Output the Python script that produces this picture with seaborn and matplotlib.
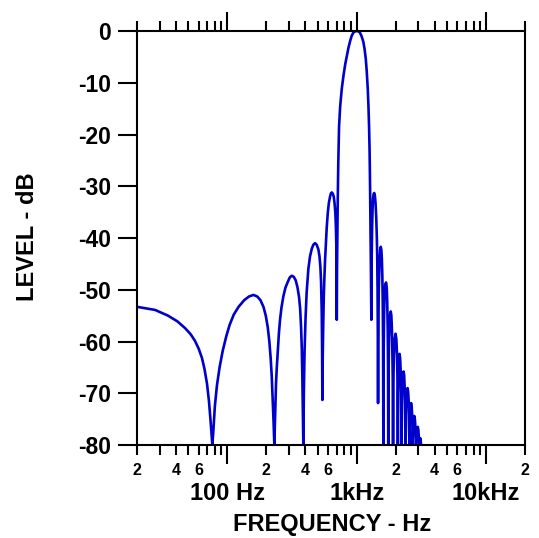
import matplotlib
matplotlib.use("Agg")
import matplotlib.pyplot as plt
import matplotlib.ticker as mticker
import pandas as pd
import seaborn as sns

# ---- data (frequency in Hz, level in dB) ----
freq_hz = [
    # low-frequency lobe
    20.0, 27.6, 34.7, 41.0, 47.0, 52.0, 56.2, 60.0, 63.6, 66.5, 69.6, 72.0, 74.2, 76.5,
    # lobe peaking near 160 Hz
    78.0, 80.0, 83.0, 87.0, 92.0, 98.0, 104.0, 112.0, 122.0, 135.0, 147.0, 159.0,
    170.0, 180.0, 190.0, 198.0, 205.0, 211.0, 216.0, 220.0, 224.0, 227.5, 230.6,
    # lobe peaking near 315 Hz
    234.0, 237.7, 241.0, 245.0, 250.0, 255.3, 262.0, 270.7, 281.0, 292.8, 304.0,
    314.5, 326.0, 337.6, 348.0, 358.1, 365.0, 371.0, 376.0, 379.7, 383.5, 386.5,
    # lobe peaking near 475 Hz
    390.0, 394.9, 402.0, 410.0, 422.6, 435.0, 448.9, 462.0, 476.0, 490.0, 505.0,
    515.0, 523.3, 530.0, 536.5, 540.0, 542.3,
    # lobe peaking near 640 Hz
    546.0, 551.0, 556.0, 562.0, 569.0, 576.1, 586.0, 597.0, 609.0, 621.9, 631.0,
    641.1, 652.0, 664.3, 674.0, 683.5, 690.0, 695.8, 699.0, 700.8,
    # main lobe
    704.0, 708.0, 713.0, 720.0, 730.0, 745.0, 766.0, 790.0, 815.0, 837.0, 862.0,
    888.0, 912.0, 937.0, 965.0, 1000.0, 1035.0, 1060.0, 1090.0, 1125.0, 1150.0,
    1174.0, 1195.0, 1217.0, 1232.0, 1245.0, 1257.0, 1268.0, 1278.0, 1287.0, 1297.3,
    # upper side lobes
    1303.0, 1313.6, 1325.0, 1337.0, 1351.0, 1366.0, 1381.0, 1398.0, 1415.0, 1430.8,
    1441.0, 1448.8, 1455.0, 1461.8,
    1468.0, 1480.0, 1501.0, 1518.0, 1534.0, 1550.0, 1564.0, 1578.0, 1589.0, 1598.0, 1606.5,
    1614.0, 1627.0, 1642.0, 1662.0, 1686.0, 1705.0, 1720.0, 1737.0, 1746.0, 1753.0,
    1762.0, 1778.0, 1800.0, 1818.0, 1833.0, 1852.0, 1870.0, 1885.0, 1898.0, 1909.0,
    1920.0, 1937.0, 1965.0, 1996.0, 2025.0, 2048.0, 2064.0, 2080.0,
    2092.0, 2106.0, 2125.0, 2144.0, 2165.0, 2185.0, 2203.0, 2222.0,
    2236.0, 2253.0, 2277.0, 2302.0, 2325.0, 2345.0, 2366.0, 2386.0,
    2403.0, 2420.0, 2446.0, 2472.0, 2497.0, 2517.0, 2536.0, 2553.0,
    2570.0, 2590.0, 2631.0, 2660.0, 2685.0, 2712.0,
    2730.0, 2755.0, 2790.0, 2820.0, 2845.0, 2876.0,
    2900.0, 2930.0, 2965.0, 2995.0, 3020.0, 3050.0,
    3075.0, 3105.0, 3125.0, 3144.0,
]
level_db = [
    -53.3, -53.9, -55.0, -56.1, -57.4, -58.6, -59.9, -61.4, -63.2, -65.3, -68.2, -71.5, -75.5, -80.0,
    -77.0, -72.5, -68.5, -65.0, -61.8, -59.0, -56.8, -54.8, -53.3, -52.0, -51.3, -51.0,
    -51.3, -52.0, -53.3, -55.0, -57.2, -60.0, -63.2, -66.5, -71.3, -75.5, -80.0,
    -74.0, -68.0, -65.0, -62.0, -58.5, -55.8, -53.4, -51.3, -49.6, -48.5, -47.6,
    -47.3, -47.5, -48.2, -49.5, -51.4, -53.6, -57.1, -61.4, -66.8, -73.5, -80.0,
    -70.0, -62.0, -55.5, -50.5, -46.0, -43.6, -42.1, -41.3, -41.0, -41.3, -42.2,
    -43.5, -45.5, -48.5, -54.5, -62.0, -71.3,
    -63.0, -56.5, -51.5, -47.8, -44.3, -41.5, -38.0, -35.2, -33.2, -32.0, -31.4,
    -31.2, -31.4, -32.0, -33.3, -35.2, -37.8, -41.7, -47.0, -55.8,
    -46.0, -40.0, -33.0, -25.5, -18.5, -14.5, -11.2, -8.6, -6.4, -4.9, -3.3,
    -2.0, -1.0, -0.4, -0.1, 0.0, -0.1, -0.35, -1.0, -2.1, -3.5,
    -5.3, -7.8, -11.2, -14.5, -18.3, -23.0, -30.0, -38.0, -46.0, -55.8,
    -45.0, -38.5, -34.5, -32.4, -31.5, -31.3, -31.8, -33.3, -36.0, -40.0,
    -44.0, -50.0, -58.0, -71.9,
    -60.0, -50.0, -44.5, -42.3, -41.7, -42.3, -44.0, -47.5, -52.5, -60.0, -80.0,
    -63.0, -55.0, -51.0, -49.0, -48.6, -49.5, -52.0, -58.0, -65.0, -80.0,
    -66.0, -59.5, -55.8, -54.5, -54.2, -55.0, -57.5, -61.5, -67.0, -80.0,
    -68.0, -63.0, -59.5, -58.5, -59.6, -62.5, -67.0, -80.0,
    -70.0, -65.5, -63.0, -62.4, -63.2, -65.5, -70.0, -80.0,
    -72.0, -68.5, -66.4, -65.8, -66.5, -68.5, -72.5, -80.0,
    -74.0, -71.2, -69.5, -69.0, -69.7, -71.2, -74.2, -80.0,
    -76.0, -73.4, -71.9, -72.6, -74.5, -80.0,
    -77.5, -75.3, -74.4, -75.2, -76.8, -80.0,
    -78.2, -77.0, -76.5, -77.1, -78.3, -80.0,
    -79.2, -78.7, -79.2, -80.0,
]

y_ticks = [0, -10, -20, -30, -40, -50, -60, -70, -80]
y_tick_labels = ["0", "-10", "-20", "-30", "-40", "-50", "-60", "-70", "-80"]
major_x = [100, 1000, 10000]
major_x_labels = ["100 Hz", "1kHz", "10kHz"]
minor_label_digits = ["2", "4", "6"]

# ---- style ----
sns.set_theme(style="white")
plt.rcParams["font.family"] = ["Liberation Sans", "DejaVu Sans"]
plt.rcParams["font.weight"] = "bold"
plt.rcParams["axes.unicode_minus"] = False
plt.rcParams["text.color"] = "black"
plt.rcParams["axes.labelcolor"] = "black"

fig = plt.figure(figsize=(5.39, 5.38), dpi=100)
ax = fig.add_axes([137 / 539, 1 - 445 / 538, 388 / 539, 414 / 538])

df = pd.DataFrame({"freq": freq_hz, "level": level_db})
sns.lineplot(data=df, x="freq", y="level", ax=ax, color="#0000cc",
             linewidth=1.9, estimator=None)

ax.set_xscale("log")
ax.set_xlim(20, 20000)
ax.set_ylim(-80, 0)

# x ticks
ax.xaxis.set_major_locator(mticker.FixedLocator(major_x))
ax.xaxis.set_major_formatter(mticker.FixedFormatter(major_x_labels))
ax.xaxis.set_minor_locator(mticker.LogLocator(base=10, subs=[2, 3, 4, 5, 6, 7, 8, 9], numticks=20))


def minor_fmt(v, pos):
    s = f"{v:.0f}"
    d = s[0]
    return d if d in minor_label_digits else ""


ax.xaxis.set_minor_formatter(mticker.FuncFormatter(minor_fmt))

ax.tick_params(axis="x", which="major", bottom=True, top=True, direction="out",
               length=13.5, width=1.5, pad=13.0, labelsize=17, colors="black")
ax.tick_params(axis="x", which="minor", bottom=True, top=True, direction="out",
               length=7.2, width=1.5, pad=6.0, labelsize=11.5, colors="black")

# y ticks
ax.set_yticks(y_ticks)
ax.set_yticklabels(y_tick_labels)
ax.tick_params(axis="y", which="major", left=True, right=False, direction="out",
               length=13.5, width=1.5, pad=5, labelsize=16.5, colors="black")
ax.tick_params(axis="y", which="minor", left=False, right=False)

for lbl in ax.get_xticklabels(which="both") + ax.get_yticklabels():
    lbl.set_fontweight("bold")

for sp in ax.spines.values():
    sp.set_color("black")
    sp.set_linewidth(1.5)
ax.grid(False)

ax.set_xlabel("FREQUENCY - Hz", fontsize=17, fontweight="bold", color="black")
ax.set_ylabel("LEVEL - dB", fontsize=17, fontweight="bold", color="black")
ax.xaxis.label.set_verticalalignment("center")
ax.xaxis.set_label_coords(0.5026, -0.193)
ax.yaxis.label.set_horizontalalignment("center")
ax.yaxis.label.set_verticalalignment("center")
ax.yaxis.set_label_coords(-0.282, 0.502)

fig.savefig("out.png", dpi=100)
